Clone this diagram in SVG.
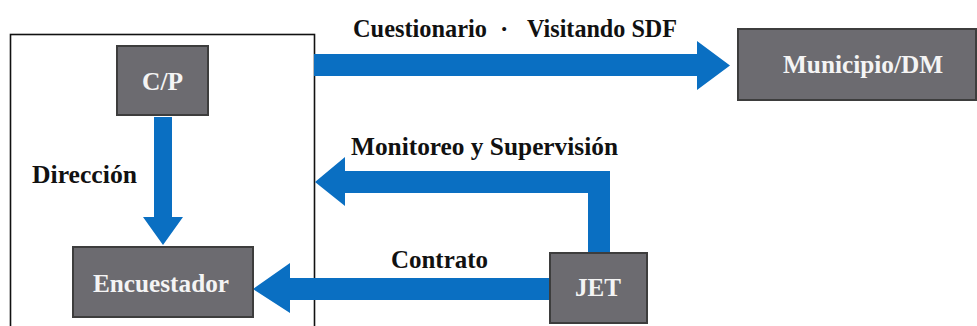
<svg xmlns="http://www.w3.org/2000/svg" width="977" height="326" viewBox="0 0 977 326">
<style>
.box{fill:#6c6b70;stroke:#3d3d3d;stroke-width:2}
.bt{font-family:"Liberation Serif","Times New Roman",serif;font-weight:bold;font-size:25px;fill:#f4f4f4}
.lb{font-family:"Liberation Serif","Times New Roman",serif;font-weight:bold;font-size:25px;fill:#111}
.arr{fill:#0a6fc2}
</style>
<rect width="977" height="326" fill="#ffffff"/>
<g id="outer">
<rect x="10.5" y="34.5" width="304" height="300" fill="none" stroke="#111" stroke-width="1.6"/>
</g>
<g id="connectors">
<polygon class="arr" points="314,54 697,54 697,41 730,65.5 697,90 697,76 314,76"/>
<polygon class="arr" points="610,252 610,171 345,171 345,157 315,182 345,206 345,193 588,193 588,252"/>
<polygon class="arr" points="550,278 290,278 290,263 253,289 290,313 290,300 550,300"/>
<polygon class="arr" points="154,117 172,117 172,217 183,217 163,245 143,217 154,217"/>
<text class="lb" y="37"><tspan x="353" textLength="134" lengthAdjust="spacingAndGlyphs">Cuestionario</tspan><tspan x="500">·</tspan><tspan x="527" textLength="150" lengthAdjust="spacingAndGlyphs">Visitando SDF</tspan></text>
<text class="lb" x="351" y="155" textLength="267" lengthAdjust="spacingAndGlyphs">Monitoreo y Supervisión</text>
<text class="lb" x="391" y="268" textLength="97" lengthAdjust="spacingAndGlyphs">Contrato</text>
<text class="lb" x="32" y="183" textLength="105" lengthAdjust="spacingAndGlyphs">Dirección</text>
</g>
<g id="cp">
<rect class="box" x="117" y="46" width="91" height="69"/>
<text class="bt" x="142" y="90" textLength="41" lengthAdjust="spacingAndGlyphs">C/P</text>
</g>
<g id="encuestador">
<rect class="box" x="73" y="247" width="180" height="70"/>
<text class="bt" x="93" y="292" textLength="136" lengthAdjust="spacingAndGlyphs">Encuestador</text>
</g>
<g id="municipio">
<rect class="box" x="738" y="29" width="238" height="71"/>
<text class="bt" x="783" y="73" textLength="160" lengthAdjust="spacingAndGlyphs">Municipio/DM</text>
</g>
<g id="jet">
<rect class="box" x="550" y="253" width="97" height="70"/>
<text class="bt" x="575" y="296" textLength="46" lengthAdjust="spacingAndGlyphs">JET</text>
</g>
</svg>
